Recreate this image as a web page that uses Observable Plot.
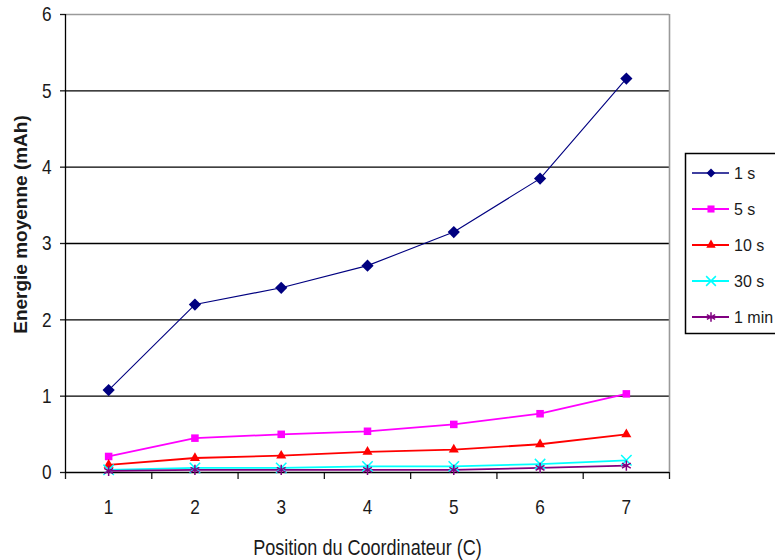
<!DOCTYPE html>
<html>
<head>
<meta charset="utf-8">
<script src="https://cdn.jsdelivr.net/npm/d3@7"></script>
<script src="https://cdn.jsdelivr.net/npm/@observablehq/plot@0.6"></script>
<style>
  html, body { margin: 0; padding: 0; background: #fff; }
  #chart { width: 775px; height: 560px; }
</style>
</head>
<body>
<div id="chart"></div>
<script>
// ---- data ----
const positions = [1, 2, 3, 4, 5, 6, 7];
const series = ["1 s", "5 s", "10 s", "30 s", "1 min"];
const values1s   = [1.08, 2.20, 2.42, 2.71, 3.15, 3.85, 5.16];
const values5s   = [0.21, 0.45, 0.50, 0.54, 0.63, 0.77, 1.03];
const values10s  = [0.10, 0.19, 0.22, 0.27, 0.30, 0.37, 0.50];
const values30s  = [0.035, 0.06, 0.06, 0.08, 0.08, 0.11, 0.16];
const values1min = [0.02, 0.035, 0.035, 0.035, 0.035, 0.06, 0.09];
const yTicks = [0, 1, 2, 3, 4, 5, 6];
const gridValues = [1, 2, 3, 4, 5];
const xLabel = "Position du Coordinateur (C)";
const yLabel = "Energie moyenne (mAh)";

const colors = ["#000080", "#FF00FF", "#FF0000", "#00FFFF", "#800080"];
const symbols = ["diamond2", "square2", "triangle2", "times", "asterisk"];
const widths = [1.1, 1.8, 1.8, 1.8, 1.8];
const allValues = [values1s, values5s, values10s, values30s, values1min];

const rows = [];
series.forEach((s, i) => positions.forEach((p, j) => rows.push({series: s, position: p, value: allValues[i][j]})));

const boundaries = d3.range(positions.length + 1).map(i => positions[0] - 0.5 + i);
const FONT = "'Liberation Sans', Arial, sans-serif";
const TXT = "#1a1a1a";

const seriesMarks = [];
series.forEach((s, i) => {
  const d = rows.filter(r => r.series === s);
  seriesMarks.push(Plot.line(d, {x: "position", y: "value", stroke: colors[i], strokeWidth: widths[i]}));
});
series.forEach((s, i) => {
  const d = rows.filter(r => r.series === s);
  const filled = i < 3;
  seriesMarks.push(Plot.dot(d, {
    x: "position", y: "value", symbol: () => s,
    r: i === 0 ? 5.5 : 4.8,
    fill: filled ? colors[i] : "none",
    stroke: colors[i], strokeWidth: filled ? 0 : 1.5
  }));
});

const chart = Plot.plot({
  width: 775,
  height: 560,
  marginLeft: 65,
  marginRight: 106,
  marginTop: 14,
  marginBottom: 88,
  style: {fontFamily: FONT, fontSize: "21px", color: TXT, background: "#fff"},
  x: {domain: [boundaries[0], boundaries[boundaries.length - 1]]},
  y: {domain: [0, 6]},
  symbol: {domain: series, range: symbols},
  marks: [
    Plot.ruleY(gridValues, {stroke: "#000", strokeWidth: 1.3}),
    Plot.ruleY([6], {stroke: "#9a9a9a", strokeWidth: 1.6}),
    Plot.ruleX([boundaries[boundaries.length - 1]], {y1: 0, y2: 6, stroke: "#9a9a9a", strokeWidth: 1.6}),
    Plot.axisY({ticks: yTicks, tickSize: 5, tickPadding: 9, tickFormat: d => String(d), label: null, fontSize: 21, strokeWidth: 1.3}),
    Plot.axisX({ticks: boundaries, tickSize: 7, tickFormat: () => "", label: null, strokeWidth: 1.3}),
    Plot.axisX({ticks: positions, tickSize: 0, tickPadding: 27, tickFormat: d => String(d), label: null, fontSize: 21}),
    Plot.ruleX([boundaries[0]], {y1: 0, y2: 6, stroke: "#000", strokeWidth: 1.3}),
    Plot.ruleY([0], {stroke: "#000", strokeWidth: 1.6}),
    ...seriesMarks,
    Plot.text([xLabel], {frameAnchor: "bottom", textAnchor: "middle", dy: 75, fontSize: 22, fill: TXT, lineAnchor: "middle"}),
    Plot.text([yLabel], {frameAnchor: "left", textAnchor: "middle", dx: -45, dy: -19, rotate: -90, fontSize: 19, fontWeight: "bold",
      fill: TXT, lineAnchor: "middle"})
  ]
});

// narrow the axis texts (the reference uses a condensed face)
document.getElementById("chart").appendChild(chart);
const svg = d3.select(chart);
svg.selectAll("text").each(function() {
  if (this.textContent === yLabel) return;
  const L = this.getComputedTextLength();
  if (L > 0) {
    this.setAttribute("textLength", (L * 0.82).toFixed(2));
    this.setAttribute("lengthAdjust", "spacingAndGlyphs");
  }
});

// ---- legend (inside the right margin) ----
const lg = svg.append("g").attr("font-family", FONT).attr("font-size", 16).attr("text-anchor", "start");
lg.append("rect").attr("x", 685.5).attr("y", 153.5).attr("width", 110).attr("height", 180)
  .attr("fill", "#fff").attr("stroke", "#000").attr("stroke-width", 1.5);
const d3sym = {diamond2: d3.symbolDiamond2, square2: d3.symbolSquare2, triangle2: d3.symbolTriangle2, times: d3.symbolTimes, asterisk: d3.symbolAsterisk};
series.forEach((s, i) => {
  const y = 173 + i * 36;
  const g = lg.append("g").attr("transform", `translate(0,${y})`);
  g.append("line").attr("x1", 692).attr("x2", 729).attr("y1", 0).attr("y2", 0)
    .attr("stroke", colors[i]).attr("stroke-width", i === 0 ? 1.5 : 1.8);
  const filled = i < 3;
  const r = i === 0 ? 4 : 4.5;
  g.append("path").attr("transform", "translate(711,0)")
    .attr("d", d3.symbol(d3sym[symbols[i]], r * r * Math.PI)())
    .attr("fill", filled ? colors[i] : "none")
    .attr("stroke", filled ? "none" : colors[i]).attr("stroke-width", 1.5);
  g.append("text").attr("x", 734).attr("y", 0).attr("dy", "0.36em").attr("fill", TXT).text(s);
});
</script>
</body>
</html>
